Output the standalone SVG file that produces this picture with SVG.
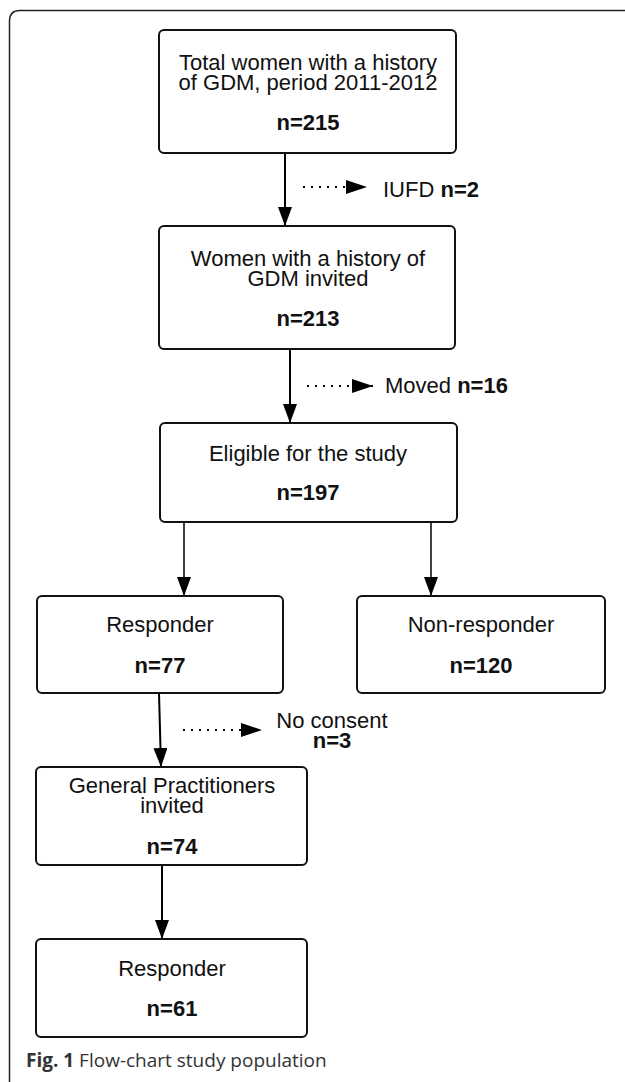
<svg xmlns="http://www.w3.org/2000/svg" width="625" height="1082" viewBox="0 0 625 1082">
  <defs>
    <marker id="head" viewBox="0 0 19 14" refX="19" refY="7" markerWidth="19" markerHeight="14" orient="auto" markerUnits="userSpaceOnUse">
      <path d="M0,0 L19,7 L0,14 Z" fill="#000"/>
    </marker>
    <marker id="dhead" viewBox="0 0 21 14" refX="21" refY="7" markerWidth="21" markerHeight="14" orient="auto" markerUnits="userSpaceOnUse">
      <path d="M0,0 L21,7 L0,14 Z" fill="#000"/>
    </marker>
    <style>
      .box { fill: #fff; stroke: #111; stroke-width: 2; }
      .t { font-family: "Liberation Sans", Arial, sans-serif; font-size: 22px; fill: #111; text-anchor: middle; }
      .tl { font-family: "Liberation Sans", Arial, sans-serif; font-size: 22px; fill: #111; }
      .b { font-weight: bold; }
      .arrow { stroke: #000; stroke-width: 2; fill: none; marker-end: url(#head); }
      .thin { stroke-width: 1.5; }
      .dot { stroke: #000; stroke-width: 2; fill: none; stroke-dasharray: 2 6; marker-end: url(#dhead); }
      .cap { font-family: "Open Sans", "Liberation Sans", sans-serif; font-size: 19px; fill: #333; }
    </style>
  </defs>

  <rect width="625" height="1082" fill="#fff"/>
  <path id="frame" d="M9.5,1082 L9.5,21 Q9.5,10.5 20,10.5 L625,10.5" fill="none" stroke="#222" stroke-width="1.5"/>

  <g id="connectors">
    <line class="arrow" x1="285" y1="153" x2="285" y2="226"/>
    <line class="dot" x1="303" y1="187" x2="367" y2="187"/>
    <line class="arrow" x1="290" y1="349" x2="290" y2="423"/>
    <line class="dot" x1="307" y1="386" x2="373" y2="386"/>
    <line class="arrow thin" x1="184" y1="522" x2="184" y2="596"/>
    <line class="arrow thin" x1="431" y1="522" x2="431" y2="596"/>
    <line class="arrow" x1="159" y1="693" x2="161" y2="767"/>
    <line class="dot" x1="183" y1="730" x2="262" y2="730"/>
    <line class="arrow" x1="162" y1="865" x2="162" y2="939"/>
  </g>

  <g id="n1">
    <rect class="box" x="159" y="30" width="297" height="123" rx="5"/>
    <text class="t" x="308" y="70">Total women with a history</text>
    <text class="t" x="308" y="90">of GDM, period 2011-2012</text>
    <text class="t b" x="308" y="130">n=215</text>
  </g>
  <g id="iufd">
    <text class="tl" x="383" y="197">IUFD <tspan class="b">n=2</tspan></text>
  </g>
  <g id="n2">
    <rect class="box" x="159" y="226" width="296" height="123" rx="5"/>
    <text class="t" x="308" y="266">Women with a history of</text>
    <text class="t" x="308" y="286">GDM invited</text>
    <text class="t b" x="308" y="326">n=213</text>
  </g>
  <g id="moved">
    <text class="tl" x="385" y="393">Moved <tspan class="b">n=16</tspan></text>
  </g>
  <g id="n3">
    <rect class="box" x="160" y="423" width="297" height="99" rx="5"/>
    <text class="t" x="308" y="461">Eligible for the study</text>
    <text class="t b" x="308" y="500">n=197</text>
  </g>
  <g id="n4">
    <rect class="box" x="37" y="596" width="246" height="97" rx="5"/>
    <text class="t" x="160" y="632">Responder</text>
    <text class="t b" x="160" y="673">n=77</text>
  </g>
  <g id="n5">
    <rect class="box" x="357" y="596" width="248" height="97" rx="5"/>
    <text class="t" x="481" y="632">Non-responder</text>
    <text class="t b" x="481" y="673">n=120</text>
  </g>
  <g id="noconsent">
    <text class="t" x="332" y="728">No consent</text>
    <text class="t b" x="332" y="748">n=3</text>
  </g>
  <g id="n6">
    <rect class="box" x="36" y="767" width="271" height="98" rx="5"/>
    <text class="t" x="172" y="793">General Practitioners</text>
    <text class="t" x="172" y="813">invited</text>
    <text class="t b" x="172" y="854">n=74</text>
  </g>
  <g id="n7">
    <rect class="box" x="36" y="939" width="271" height="98" rx="5"/>
    <text class="t" x="172" y="976">Responder</text>
    <text class="t b" x="172" y="1016">n=61</text>
  </g>
  <g id="caption">
    <text class="cap" x="26" y="1067"><tspan font-weight="bold">Fig. 1</tspan> Flow-chart study population</text>
  </g>
</svg>
